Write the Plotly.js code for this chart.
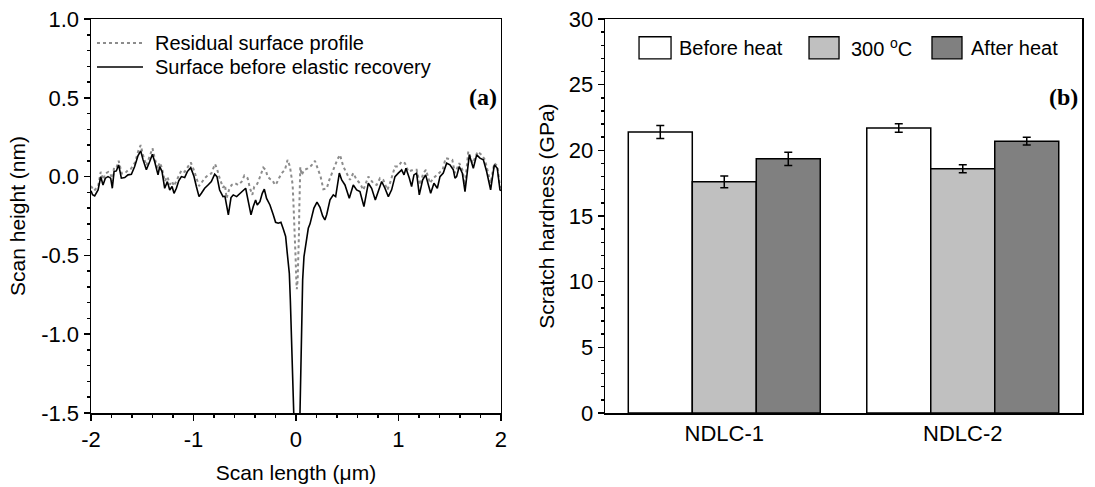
<!DOCTYPE html>
<html>
<head>
<meta charset="utf-8">
<script src="https://cdn.plot.ly/plotly-3.0.1.min.js"></script>
<style>html,body{margin:0;padding:0;background:#fff;}#chart{width:1095px;height:487px;}</style>
</head>
<body>
<div id="chart"></div>
<script>
// ---- Panel (a): scan profiles ----
const residualX = [-2.00,-1.97,-1.93,-1.905,-1.88,-1.86,-1.83,-1.81,-1.79,-1.775,-1.75,-1.73,-1.70,-1.67,-1.64,-1.61,-1.57,-1.54,-1.515,-1.49,-1.46,-1.43,-1.40,-1.38,-1.35,-1.33,-1.31,-1.28,-1.255,-1.23,-1.21,-1.19,-1.167,-1.144,-1.118,-1.086,-1.06,-1.027,-0.995,-0.972,-0.946,-0.923,-0.891,-0.858,-0.826,-0.79,-0.771,-0.745,-0.712,-0.693,-0.677,-0.654,-0.628,-0.595,-0.563,-0.530,-0.504,-0.472,-0.449,-0.426,-0.407,-0.384,-0.368,-0.342,-0.319,-0.296,-0.277,-0.254,-0.231,-0.205,-0.189,-0.166,-0.140,-0.108,-0.082,-0.059,-0.043,-0.033,-0.026,-0.016,-0.010,-0.003,0.003,0.008,0.016,0.023,0.029,0.032,0.036,0.042,0.055,0.080,0.110,0.150,0.185,0.215,0.240,0.267,0.300,0.325,0.350,0.380,0.405,0.429,0.462,0.494,0.527,0.559,0.592,0.624,0.657,0.706,0.754,0.787,0.820,0.852,0.891,0.917,0.966,0.998,1.031,1.063,1.096,1.145,1.177,1.210,1.242,1.268,1.307,1.340,1.389,1.431,1.460,1.493,1.525,1.551,1.593,1.623,1.649,1.681,1.724,1.772,1.811,1.844,1.899,1.935,1.964,1.990,2.000];
const residualY = [-0.06,-0.09,-0.06,0.03,-0.02,0.02,0.03,0.02,-0.03,0.06,0.06,0.10,0.02,0.02,0.04,0.05,0.09,0.16,0.20,0.13,0.07,0.12,0.18,0.12,0.05,0.09,0.06,-0.03,0.00,-0.05,-0.03,-0.06,-0.03,0.01,0.04,0.03,0.06,0.09,0.04,-0.01,-0.06,-0.04,-0.01,0.01,0.02,0.08,0.05,-0.01,-0.07,-0.053,-0.138,-0.085,-0.053,-0.042,-0.053,-0.032,0.007,-0.010,-0.074,-0.116,-0.063,-0.053,-0.032,0.015,0.057,0.043,0.000,-0.015,-0.021,-0.053,-0.042,-0.010,0.021,0.043,0.106,0.064,-0.010,-0.050,-0.148,-0.275,-0.402,-0.529,-0.657,-0.715,-0.657,-0.529,-0.360,-0.212,-0.085,0.06,0.010,0.043,0.050,0.070,0.100,0.050,0.000,-0.080,-0.075,-0.021,0.022,0.064,0.110,0.138,0.064,0.022,-0.021,0.022,-0.021,-0.042,-0.085,0.000,-0.042,-0.053,-0.010,-0.021,-0.085,-0.042,0.064,0.064,0.096,0.085,0.032,0.043,0.043,-0.053,0.022,0.043,-0.042,-0.010,0.022,0.043,0.117,0.110,0.106,0.022,0.085,0.043,-0.053,0.159,0.085,0.159,0.138,0.106,-0.042,0.085,0.068,-0.063,-0.07];

const surfaceX = [-2.00,-1.985,-1.964,-1.931,-1.905,-1.883,-1.860,-1.834,-1.808,-1.792,-1.775,-1.753,-1.730,-1.704,-1.671,-1.639,-1.606,-1.574,-1.541,-1.515,-1.492,-1.460,-1.427,-1.401,-1.379,-1.346,-1.330,-1.307,-1.281,-1.255,-1.232,-1.209,-1.190,-1.167,-1.144,-1.118,-1.086,-1.060,-1.027,-0.995,-0.972,-0.946,-0.923,-0.891,-0.858,-0.826,-0.793,-0.771,-0.745,-0.712,-0.693,-0.660,-0.634,-0.612,-0.579,-0.547,-0.514,-0.491,-0.465,-0.439,-0.417,-0.394,-0.378,-0.352,-0.329,-0.309,-0.287,-0.254,-0.221,-0.199,-0.173,-0.147,-0.124,-0.101,-0.085,-0.065,-0.055,-0.040,-0.028,-0.015,0.005,0.025,0.039,0.048,0.055,0.065,0.078,0.100,0.120,0.137,0.153,0.175,0.205,0.234,0.260,0.282,0.300,0.332,0.364,0.387,0.423,0.446,0.478,0.520,0.559,0.592,0.624,0.663,0.706,0.738,0.774,0.803,0.836,0.868,0.901,0.933,0.966,0.998,1.031,1.054,1.073,1.106,1.128,1.151,1.177,1.203,1.236,1.265,1.291,1.314,1.346,1.379,1.405,1.437,1.470,1.502,1.535,1.551,1.567,1.593,1.623,1.649,1.691,1.730,1.763,1.795,1.828,1.860,1.899,1.935,1.964,1.990,2.000];
const surfaceY = [-0.09,-0.115,-0.123,-0.085,0.000,-0.053,-0.010,0.000,-0.010,-0.074,0.032,0.036,0.074,-0.010,-0.006,0.011,0.015,0.064,0.134,0.163,0.106,0.043,0.096,0.142,0.096,0.011,0.064,0.032,-0.074,-0.032,-0.085,-0.063,-0.106,-0.074,-0.027,0.000,-0.006,0.032,0.057,0.000,-0.063,-0.127,-0.106,-0.074,-0.053,-0.032,0.015,0.000,-0.085,-0.127,-0.125,-0.243,-0.133,-0.116,-0.127,-0.106,-0.085,-0.074,-0.159,-0.243,-0.190,-0.148,-0.180,-0.159,-0.106,-0.080,-0.138,-0.180,-0.243,-0.290,-0.296,-0.290,-0.332,-0.380,-0.487,-0.614,-0.784,-1.10,-1.45,-1.65,-1.72,-1.65,-1.50,-1.10,-0.784,-0.657,-0.508,-0.420,-0.328,-0.300,-0.254,-0.200,-0.162,-0.195,-0.250,-0.275,-0.240,-0.148,-0.116,-0.127,0.022,-0.021,-0.053,-0.137,-0.053,-0.084,-0.095,-0.190,-0.042,-0.074,-0.148,-0.095,-0.031,-0.074,-0.127,-0.084,0.000,0.022,0.043,0.011,0.053,-0.010,-0.063,0.011,0.022,-0.116,-0.021,0.011,-0.053,-0.106,-0.042,-0.074,0.000,0.022,0.085,0.075,0.043,-0.010,0.000,0.064,0.022,-0.095,0.138,0.053,0.138,0.117,0.106,0.032,-0.084,0.075,0.053,-0.084,-0.09];
const profileNames = ["Residual surface profile", "Surface before elastic recovery"];

// tick labels (hyphen-minus as in the reference)
const heightTickVals = [-1.5, -1.0, -0.5, 0.0, 0.5, 1.0];
const heightTickText = ["-1.5", "-1.0", "-0.5", "0.0", "0.5", "1.0"];
const lengthTickVals = [-2, -1, 0, 1, 2];
const lengthTickText = ["-2", "-1", "0", "1", "2"];

// ---- Panel (b): scratch hardness ----
const samples = ["NDLC-1", "NDLC-2"];
const seriesNames = ["Before heat", "300 <sup>o</sup>C", "After heat"];
const beforeHeat = [21.4, 21.7];
const beforeHeatErr = [0.5, 0.32];
const at300C = [17.6, 18.6];
const at300CErr = [0.45, 0.3];
const afterHeat = [19.35, 20.7];
const afterHeatErr = [0.5, 0.3];
const barColors = ["#ffffff", "#c0c0c0", "#808080"];

const FONT = "Liberation Sans, Arial, sans-serif";
const SERIF = "Liberation Serif, Times New Roman, serif";

const lineStyles = [
  {color: "#8c8c8c", width: 2, dash: "dot"},
  {color: "#000000", width: 1.6, dash: "solid"}
];

const traces = [
  {x: residualX, y: residualY, type: "scatter", mode: "lines", name: profileNames[0], showlegend: false,
   line: lineStyles[0], xaxis: "x", yaxis: "y"},
  {x: surfaceX, y: surfaceY, type: "scatter", mode: "lines", name: profileNames[1], showlegend: false,
   line: lineStyles[1], xaxis: "x", yaxis: "y"}
];
const barVals = [beforeHeat, at300C, afterHeat];
const barErrs = [beforeHeatErr, at300CErr, afterHeatErr];
for (let i = 0; i < 3; i++) {
  traces.push({
    x: samples, y: barVals[i], type: "bar", name: seriesNames[i], showlegend: false,
    xaxis: "x2", yaxis: "y2",
    marker: {color: barColors[i], line: {color: "#000000", width: 1.5}},
    error_y: {type: "data", array: barErrs[i], visible: true, color: "#000000", thickness: 1.5, width: 4}
  });
}

const axisCommon = {
  showline: true, linecolor: "#000000", linewidth: 1.5, mirror: true,
  showgrid: false, zeroline: false,
  tickfont: {family: FONT, size: 22, color: "#000000"},
  ticks: "outside", ticklen: 6, tickwidth: 1.5, tickcolor: "#000000"
};

const shapes = [];
const annotations = [];

// legend for panel (a): line samples + labels
const lineLegendY = [0.939, 0.878];
for (let i = 0; i < 2; i++) {
  shapes.push({type: "line", xref: "x domain", yref: "y domain",
    x0: 0.0146, x1: 0.1268, y0: lineLegendY[i], y1: lineLegendY[i],
    line: {color: lineStyles[i].color, width: lineStyles[i].width, dash: lineStyles[i].dash}});
  annotations.push({xref: "x domain", yref: "y domain", x: 0.1512, y: lineLegendY[i],
    xanchor: "left", yanchor: "middle", showarrow: false, text: profileNames[i],
    font: {family: FONT, size: 20, color: "#000000"}});
}

// legend for panel (b): filled boxes + labels
const legendBoxes = [[0.0713, 0.1384, 0.151], [0.4277, 0.4906, 0.5115], [0.6855, 0.7484, 0.7631]];
for (let i = 0; i < 3; i++) {
  shapes.push({type: "rect", xref: "x2 domain", yref: "y2 domain",
    x0: legendBoxes[i][0], x1: legendBoxes[i][1], y0: 0.899, y1: 0.955,
    fillcolor: barColors[i], line: {color: "#000000", width: 1.3}});
  annotations.push({xref: "x2 domain", yref: "y2 domain", x: legendBoxes[i][2], y: 0.927,
    xanchor: "left", yanchor: "middle", showarrow: false, text: seriesNames[i],
    font: {family: FONT, size: 20, color: "#000000"}});
}
annotations.push({xref: "x domain", yref: "y domain", x: 1, xshift: -2, y: 0.8025, xanchor: "right", yanchor: "middle",
  showarrow: false, text: "<b>(a)</b>", font: {family: SERIF, size: 24, color: "#000000"}});
annotations.push({xref: "x2 domain", yref: "y2 domain", x: 1, xshift: -2, y: 0.8025, xanchor: "right", yanchor: "middle",
  showarrow: false, text: "<b>(b)</b>", font: {family: SERIF, size: 24, color: "#000000"}});

const layout = {
  width: 1095, height: 487,
  margin: {l: 91, r: 13, t: 19, b: 74},
  paper_bgcolor: "#ffffff", plot_bgcolor: "#ffffff",
  font: {family: FONT, size: 20, color: "#000000"},
  showlegend: false,
  barmode: "group", bargap: 0.195, bargroupgap: 0,
  xaxis: Object.assign({}, axisCommon, {
    domain: [0, 0.4137], range: [-2, 2],
    tickmode: "array", tickvals: lengthTickVals, ticktext: lengthTickText,
    minor: {ticks: "outside", ticklen: 3, tickmode: "linear", tick0: 0, dtick: 0.2, tickwidth: 1.5, tickcolor: "#000000"},
    title: {text: "Scan length (μm)", font: {family: FONT, size: 21}, standoff: 14}
  }),
  yaxis: Object.assign({}, axisCommon, {
    domain: [0, 1], range: [-1.5, 1.0],
    tickmode: "array", tickvals: heightTickVals, ticktext: heightTickText,
    minor: {ticks: "outside", ticklen: 3, tickmode: "linear", tick0: 0, dtick: 0.1, tickwidth: 1.5, tickcolor: "#000000"},
    title: {text: "Scan height (nm)", font: {family: FONT, size: 21}, standoff: 10}
  }),
  xaxis2: Object.assign({}, axisCommon, {
    domain: [0.5187, 1], range: [-0.5, 1.5], type: "category", anchor: "y2",
    ticks: ""
  }),
  yaxis2: Object.assign({}, axisCommon, {
    domain: [0, 1], range: [0, 30], dtick: 5, anchor: "x2",
    minor: {ticks: "outside", ticklen: 3, dtick: 1, tickwidth: 1.5, tickcolor: "#000000"},
    title: {text: "Scratch hardness (GPa)", font: {family: FONT, size: 21}, standoff: 8}
  }),
  shapes: shapes,
  annotations: annotations
};

Plotly.newPlot("chart", traces, layout, {staticPlot: true, displayModeBar: false});
</script>
</body>
</html>
